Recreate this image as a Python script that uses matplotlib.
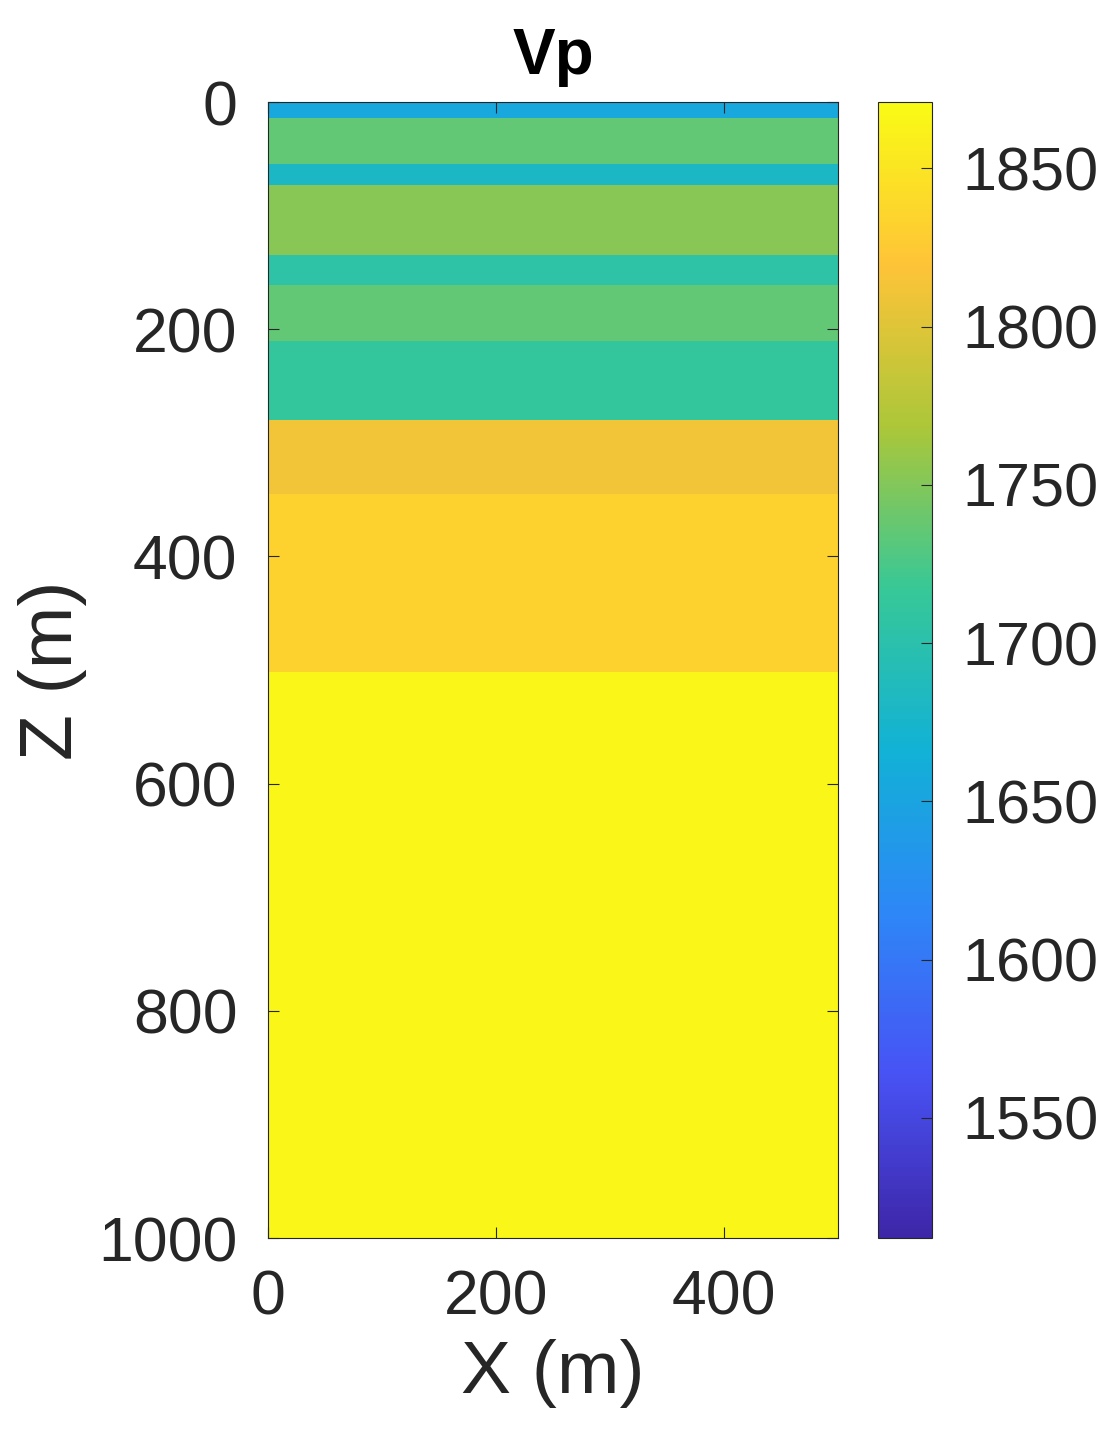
import numpy as np
import matplotlib
matplotlib.use("Agg")
import matplotlib.pyplot as plt
from matplotlib.colors import LinearSegmentedColormap

plt.rcParams['font.family'] = ['Liberation Sans', 'DejaVu Sans']

# layer tops/bottoms (m) and velocities (m/s)
layer_bounds = [0, 14, 55, 73, 135, 161, 210, 280, 345, 502, 1000]
layer_vp = [1655, 1735, 1680, 1752, 1705, 1735, 1712, 1812, 1832, 1866]
x_extent = [0, 500]
vmin, vmax = 1512, 1871

parula = LinearSegmentedColormap.from_list("parula", [
    (0.2422, 0.1504, 0.6603), (0.2810, 0.3228, 0.9579), (0.1786, 0.5289, 0.9682),
    (0.0689, 0.6948, 0.8394), (0.2161, 0.7843, 0.5923), (0.6720, 0.7793, 0.2227),
    (0.9970, 0.7659, 0.2199), (0.9769, 0.9839, 0.0805)])

fig = plt.figure(figsize=(11.06, 14.48), dpi=100)
ax = fig.add_axes([268/1106, 1-1238/1448, 570/1106, 1136/1448])
cax = fig.add_axes([878/1106, 1-1238/1448, 54/1106, 1136/1448])

Z = np.array(layer_vp).reshape(-1, 1)
m = ax.pcolormesh(x_extent, layer_bounds, Z, cmap=parula, vmin=vmin, vmax=vmax, shading='flat')
ax.set_xlim(0, 500)
ax.set_ylim(1000, 0)
ax.set_xticks([0, 200, 400])
ax.set_yticks([0, 200, 400, 600, 800, 1000])
ax.tick_params(direction='in', labelsize=45, length=8, top=True, right=True, colors='#262626', pad=22)
for s in ax.spines.values():
    s.set_color('#262626')
ax.set_xlabel('X (m)', fontsize=54, color='#262626', labelpad=8)
ax.set_ylabel('Z (m)', fontsize=54, color='#262626', labelpad=8)
ax.set_title('Vp', fontsize=46, fontweight='bold', pad=20)

cb = fig.colorbar(m, cax=cax)
cb.set_ticks([1550, 1600, 1650, 1700, 1750, 1800, 1850])
cax.tick_params(direction='in', labelsize=44, length=8, colors='#262626', pad=22)
cb.outline.set_edgecolor('#262626')

fig.savefig('out.png', dpi=100)
